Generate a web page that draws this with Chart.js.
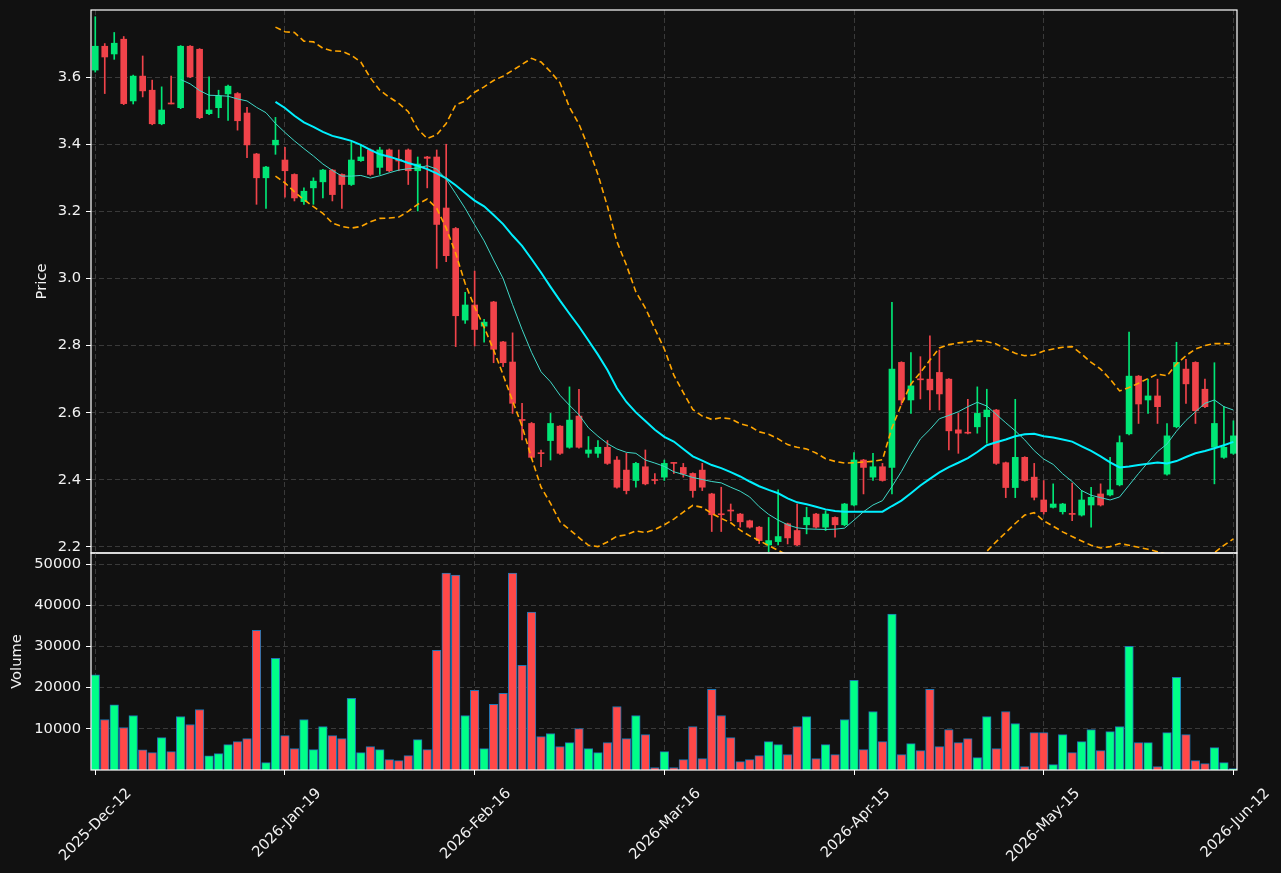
<!DOCTYPE html>
<html>
<head>
<meta charset="utf-8">
<script src="https://cdn.jsdelivr.net/npm/chart.js@4.4.1/dist/chart.umd.min.js"></script>
<style>
  html, body { margin: 0; padding: 0; background: #111111; }
  #wrap { position: relative; width: 1281px; height: 873px; }
  #wrap canvas { position: absolute; left: 0; top: 0; }
</style>
</head>
<body>
<div id="wrap">
  <canvas id="price" width="1281" height="873"></canvas>
  <canvas id="vol" width="1281" height="873"></canvas>
</div>
<script>
// tick labels on the shared date axis (one every 20 sessions)
const tickIdx = [0, 20, 40, 60, 80, 100, 120];
const tickLabels = ['2025-Dec-12', '2026-Jan-19', '2026-Feb-16', '2026-Mar-16', '2026-Apr-15', '2026-May-15', '2026-Jun-12'];
const priceTicks = [2.2, 2.4, 2.6, 2.8, 3.0, 3.2, 3.4, 3.6];
const volTicks = [10000, 20000, 30000, 40000, 50000];

// OHLC, one entry per session
const opens = [3.621,3.692,3.669,3.713,3.529,3.603,3.561,3.461,3.523,3.509,
  3.692,3.683,3.491,3.509,3.550,3.551,3.493,3.371,3.300,3.398,
  3.353,3.310,3.229,3.270,3.288,3.323,3.310,3.280,3.351,3.383,
  3.331,3.383,3.355,3.383,3.321,3.362,3.362,3.210,3.149,2.876,
  2.921,2.858,2.930,2.811,2.751,2.580,2.568,2.481,2.517,2.560,
  2.497,2.590,2.479,2.479,2.497,2.459,2.429,2.398,2.439,2.401,
  2.408,2.451,2.437,2.419,2.429,2.358,2.299,2.310,2.298,2.278,
  2.259,2.206,2.216,2.269,2.249,2.266,2.298,2.259,2.288,2.266,
  2.325,2.459,2.408,2.439,2.437,2.750,2.638,2.701,2.700,2.720,
  2.700,2.549,2.541,2.558,2.588,2.608,2.451,2.377,2.467,2.408,
  2.340,2.318,2.305,2.300,2.295,2.325,2.358,2.355,2.385,2.537,
  2.709,2.638,2.650,2.417,2.558,2.730,2.750,2.670,2.497,2.467,
  2.479];
const highs = [3.780,3.700,3.733,3.721,3.606,3.663,3.591,3.571,3.603,3.694,
  3.694,3.685,3.601,3.561,3.576,3.554,3.510,3.373,3.334,3.480,
  3.391,3.312,3.270,3.300,3.325,3.325,3.312,3.407,3.398,3.386,
  3.391,3.386,3.383,3.386,3.362,3.364,3.383,3.400,3.152,2.959,
  3.022,2.878,2.932,2.813,2.838,2.628,2.571,2.489,2.598,2.562,
  2.677,2.670,2.529,2.517,2.517,2.469,2.479,2.452,2.489,2.419,
  2.459,2.452,2.449,2.421,2.449,2.360,2.378,2.328,2.300,2.280,
  2.261,2.288,2.370,2.271,2.328,2.318,2.300,2.308,2.290,2.330,
  2.481,2.461,2.479,2.449,2.929,2.752,2.779,2.767,2.829,2.787,
  2.702,2.598,2.640,2.677,2.670,2.610,2.453,2.640,2.469,2.449,
  2.398,2.388,2.330,2.390,2.368,2.378,2.388,2.467,2.531,2.840,
  2.711,2.700,2.700,2.568,2.810,2.759,2.752,2.700,2.749,2.618,
  2.576];
const lows = [3.615,3.551,3.653,3.518,3.520,3.541,3.458,3.458,3.520,3.506,
  3.598,3.476,3.488,3.479,3.471,3.442,3.360,3.221,3.209,3.370,
  3.242,3.231,3.221,3.221,3.240,3.231,3.209,3.277,3.349,3.307,
  3.310,3.318,3.321,3.280,3.201,3.270,3.030,3.050,2.797,2.866,
  2.799,2.810,2.749,2.737,2.598,2.519,2.464,2.439,2.459,2.476,
  2.494,2.494,2.467,2.467,2.446,2.375,2.358,2.378,2.385,2.388,
  2.398,2.419,2.408,2.348,2.368,2.246,2.246,2.278,2.259,2.256,
  2.210,2.186,2.206,2.209,2.204,2.239,2.256,2.249,2.229,2.263,
  2.322,2.358,2.398,2.396,2.358,2.623,2.598,2.641,2.608,2.608,
  2.489,2.479,2.537,2.539,2.509,2.446,2.347,2.347,2.396,2.340,
  2.298,2.316,2.298,2.278,2.292,2.259,2.322,2.352,2.382,2.534,
  2.568,2.598,2.568,2.414,2.555,2.628,2.568,2.615,2.388,2.464,
  2.476];
const closes = [3.692,3.660,3.701,3.521,3.603,3.559,3.461,3.502,3.520,3.692,
  3.601,3.479,3.502,3.543,3.573,3.470,3.398,3.300,3.332,3.412,
  3.321,3.240,3.260,3.290,3.323,3.250,3.280,3.353,3.362,3.310,
  3.383,3.321,3.350,3.321,3.341,3.358,3.161,3.068,2.889,2.921,
  2.848,2.870,2.789,2.749,2.628,2.577,2.467,2.478,2.568,2.479,
  2.578,2.497,2.489,2.497,2.449,2.378,2.368,2.449,2.388,2.398,
  2.449,2.449,2.417,2.368,2.378,2.296,2.296,2.307,2.275,2.259,
  2.219,2.219,2.231,2.227,2.206,2.288,2.259,2.298,2.266,2.328,
  2.459,2.437,2.439,2.398,2.730,2.638,2.680,2.698,2.668,2.656,
  2.546,2.539,2.539,2.598,2.608,2.449,2.377,2.467,2.398,2.348,
  2.305,2.328,2.328,2.297,2.340,2.348,2.325,2.370,2.511,2.709,
  2.626,2.650,2.618,2.531,2.750,2.686,2.606,2.618,2.568,2.497,
  2.531];
const volumes = [23100,12260,15830,10310,13230,4870,4220,7870,4460,12990,
  11040,14690,3410,3980,6170,6900,7630,33930,1790,27110,
  8360,5190,12260,4950,10550,8360,7630,17370,4220,5680,
  4950,2520,2270,3490,7390,4950,29060,47810,47320,13230,
  19320,5190,15910,18590,47810,25410,38310,8120,8850,5680,
  6660,10060,5190,4220,6660,15420,7630,13230,8600,570,
  4460,570,2520,10550,2760,19560,13230,7870,2030,2520,
  3490,6900,6170,3730,10550,12990,2760,6170,3730,12260,
  21750,4950,14200,6900,37820,3730,6410,4710,19560,5680,
  9820,6660,7630,3000,12990,5190,14200,11280,810,9090,
  9090,1300,8600,4220,6900,9820,4710,9330,10550,30030,
  6660,6660,810,9090,22480,8600,2270,1540,5440,1790,
  320];

// overlay lines
const ma10Start = 9;
const ma10 = [3.593,3.580,3.560,3.546,3.545,3.543,3.535,3.529,3.510,3.494,
  3.462,3.435,3.410,3.387,3.365,3.341,3.322,3.305,3.305,3.307,
  3.299,3.306,3.315,3.323,3.327,3.329,3.336,3.326,3.296,3.253,
  3.209,3.160,3.112,3.055,3.000,2.922,2.848,2.780,2.722,2.692,
  2.652,2.622,2.594,2.555,2.530,2.508,2.492,2.482,2.479,2.459,
  2.450,2.440,2.424,2.416,2.407,2.401,2.395,2.391,2.378,2.366,
  2.349,2.320,2.297,2.280,2.266,2.257,2.254,2.253,2.252,2.253,
  2.256,2.280,2.305,2.325,2.338,2.380,2.425,2.476,2.522,2.550,
  2.582,2.592,2.603,2.618,2.631,2.620,2.595,2.570,2.546,2.519,
  2.487,2.462,2.446,2.418,2.395,2.368,2.354,2.347,2.340,2.349,
  2.384,2.419,2.452,2.484,2.507,2.545,2.577,2.603,2.628,2.638,
  2.618,2.608];
const ma20Start = 19;
const ma20 = [3.526,3.508,3.485,3.465,3.452,3.437,3.425,3.418,3.410,3.398,
  3.383,3.370,3.363,3.354,3.344,3.336,3.326,3.313,3.298,3.278,
  3.255,3.232,3.215,3.189,3.162,3.128,3.097,3.058,3.018,2.975,
  2.934,2.895,2.857,2.815,2.773,2.727,2.673,2.632,2.601,2.575,
  2.549,2.528,2.514,2.492,2.470,2.457,2.444,2.435,2.423,2.410,
  2.395,2.381,2.370,2.360,2.345,2.333,2.327,2.320,2.312,2.307,
  2.305,2.305,2.305,2.305,2.305,2.322,2.338,2.360,2.383,2.403,
  2.422,2.438,2.451,2.465,2.483,2.503,2.512,2.520,2.530,2.536,
  2.537,2.530,2.526,2.520,2.514,2.500,2.486,2.470,2.452,2.437,
  2.440,2.444,2.448,2.452,2.449,2.456,2.468,2.479,2.486,2.494,
  2.503,2.513];
const bandStart = 19;
const bandUpper = [3.749,3.735,3.733,3.707,3.705,3.686,3.678,3.677,3.665,3.645,
  3.598,3.561,3.540,3.522,3.497,3.445,3.417,3.428,3.462,3.517,
  3.529,3.555,3.571,3.590,3.603,3.620,3.638,3.656,3.645,3.616,
  3.583,3.510,3.460,3.390,3.310,3.215,3.110,3.040,2.960,2.912,
  2.850,2.790,2.712,2.660,2.610,2.590,2.580,2.585,2.582,2.567,
  2.560,2.543,2.536,2.522,2.505,2.497,2.492,2.480,2.463,2.455,
  2.450,2.451,2.453,2.455,2.460,2.555,2.625,2.685,2.720,2.757,
  2.793,2.803,2.808,2.811,2.815,2.812,2.805,2.790,2.777,2.770,
  2.772,2.784,2.790,2.795,2.797,2.775,2.750,2.730,2.700,2.665,
  2.675,2.688,2.702,2.715,2.710,2.745,2.770,2.790,2.800,2.806,
  2.806,2.805];
const bandLower = [3.305,3.285,3.258,3.235,3.214,3.194,3.165,3.155,3.150,3.155,
  3.169,3.179,3.180,3.183,3.200,3.221,3.237,3.209,3.150,3.075,
  2.985,2.915,2.855,2.787,2.713,2.635,2.560,2.465,2.378,2.330,
  2.275,2.252,2.228,2.205,2.201,2.215,2.232,2.236,2.248,2.243,
  2.252,2.266,2.283,2.304,2.324,2.318,2.300,2.285,2.272,2.250,
  2.233,2.219,2.204,2.190,2.175,2.165,2.160,2.155,2.150,2.150,
  2.150,2.150,2.145,2.140,2.130,2.080,2.060,2.050,2.040,2.040,
  2.040,2.050,2.070,2.100,2.150,2.187,2.216,2.243,2.270,2.295,
  2.302,2.278,2.262,2.245,2.231,2.218,2.205,2.197,2.201,2.210,
  2.205,2.199,2.193,2.186,2.178,2.165,2.160,2.160,2.170,2.183,
  2.205,2.224];

const UP = '#00e676', DOWN = '#f0434a';
const VOL_UP = '#00ff88', VOL_DOWN = '#ff4848', VOL_EDGE = '#1f77b4';
const TEXT = '#f2f2f2', GRID = '#3a3a3a';
const FONT = { family: 'DejaVu Sans', size: 14.7 };
const X_MIN = -0.45, X_MAX = 120.38;

Chart.defaults.font.family = 'DejaVu Sans';
Chart.defaults.color = TEXT;

const idx = closes.map((_, i) => i);
const isUp = idx.map(i => closes[i] >= opens[i]);

function series(start, vals) {
  return vals.map((v, k) => ({ x: start + k, y: v }));
}

// white box round each panel
const frame = {
  id: 'frame',
  afterDraw(chart) {
    const { ctx, chartArea: a } = chart;
    ctx.save();
    ctx.strokeStyle = '#ffffff';
    ctx.lineWidth = 1.2;
    ctx.strokeRect(a.left, a.top, a.right - a.left, a.bottom - a.top);
    ctx.restore();
  }
};

const setXTicks = axis => { axis.ticks = tickIdx.map(v => ({ value: v })); };

// fixed-width y axis, no extra room for the end labels
const fixYAxis = s => { s.width = 91; s.paddingTop = 0; s.paddingBottom = 0; };

function yGrid() {
  return { color: GRID, tickColor: '#ffffff', tickLength: 5, tickWidth: 1, tickBorderDash: [] };
}

/* price panel */
new Chart(document.getElementById('price'), {
  type: 'bar',
  data: {
    datasets: [
      { type: 'line', data: series(bandStart, bandUpper), borderColor: '#ffa500', borderWidth: 1.6,
        borderDash: [6, 3.5], pointRadius: 0, order: 0 },
      { type: 'line', data: series(bandStart, bandLower), borderColor: '#ffa500', borderWidth: 1.6,
        borderDash: [6, 3.5], pointRadius: 0, order: 0 },
      { type: 'line', data: series(ma10Start, ma10), borderColor: '#40d8c8', borderWidth: 1,
        pointRadius: 0, order: 0 },
      { type: 'line', data: series(ma20Start, ma20), borderColor: '#00f0ff', borderWidth: 2,
        pointRadius: 0, order: 0 },
      { data: idx.map(i => ({ x: i, y: [opens[i], closes[i]] })),
        backgroundColor: idx.map(i => isUp[i] ? UP : DOWN),
        barThickness: 6, minBarLength: 1, grouped: false, order: 1 },
      { data: idx.map(i => ({ x: i, y: [lows[i], highs[i]] })),
        backgroundColor: idx.map(i => isUp[i] ? UP : DOWN),
        barThickness: 1, grouped: false, order: 2 }
    ]
  },
  options: {
    responsive: false,
    animation: false,
    devicePixelRatio: 1,
    layout: { padding: { left: 0, right: 44, top: 10, bottom: 320 } },
    plugins: { legend: { display: false }, tooltip: { enabled: false } },
    scales: {
      x: {
        type: 'linear', min: X_MIN, max: X_MAX, offset: false,
        afterBuildTicks: setXTicks,
        ticks: { display: false },
        grid: { color: GRID, drawTicks: false, offset: false },
        border: { display: false, dash: [5, 3] },
        afterFit: s => { s.height = 0; }
      },
      y: {
        min: 2.182, max: 3.80,
        afterBuildTicks: axis => { axis.ticks = priceTicks.map(v => ({ value: v })); },
        ticks: { callback: v => v.toFixed(1), padding: 5, color: TEXT, font: FONT },
        grid: yGrid(),
        border: { display: false, dash: [5, 3] },
        title: { display: true, text: 'Price', color: TEXT, font: FONT, padding: { top: 33, bottom: 0 } },
        afterFit: fixYAxis
      }
    }
  },
  plugins: [frame]
});

/* volume panel */
new Chart(document.getElementById('vol'), {
  type: 'bar',
  data: {
    datasets: [{
      data: idx.map(i => ({ x: i, y: volumes[i] })),
      backgroundColor: idx.map(i => isUp[i] ? VOL_UP : VOL_DOWN),
      borderColor: VOL_EDGE, borderWidth: 1,
      barThickness: 8.6, grouped: false
    }]
  },
  options: {
    responsive: false,
    animation: false,
    devicePixelRatio: 1,
    layout: { padding: { left: 0, right: 44, top: 553, bottom: 0 } },
    plugins: { legend: { display: false }, tooltip: { enabled: false } },
    scales: {
      x: {
        type: 'linear', min: X_MIN, max: X_MAX, offset: false,
        afterBuildTicks: setXTicks,
        ticks: {
          autoSkip: false, maxRotation: 45, minRotation: 45, labelOffset: 34, padding: 10,
          color: TEXT, font: FONT,
          callback: v => tickLabels[tickIdx.indexOf(v)]
        },
        grid: { color: GRID, tickColor: '#ffffff', tickLength: 5, tickBorderDash: [], offset: false },
        border: { display: false, dash: [5, 3] },
        afterFit: s => { s.height = 103; }
      },
      y: {
        min: 0, max: 52670,
        afterBuildTicks: axis => { axis.ticks = volTicks.map(v => ({ value: v })); },
        ticks: { callback: v => String(v), padding: 5, color: TEXT, font: FONT },
        grid: yGrid(),
        border: { display: false, dash: [5, 3] },
        title: { display: true, text: 'Volume', color: TEXT, font: FONT, padding: { top: 8, bottom: 0 } },
        afterFit: fixYAxis
      }
    }
  },
  plugins: [frame]
});
</script>
</body>
</html>
